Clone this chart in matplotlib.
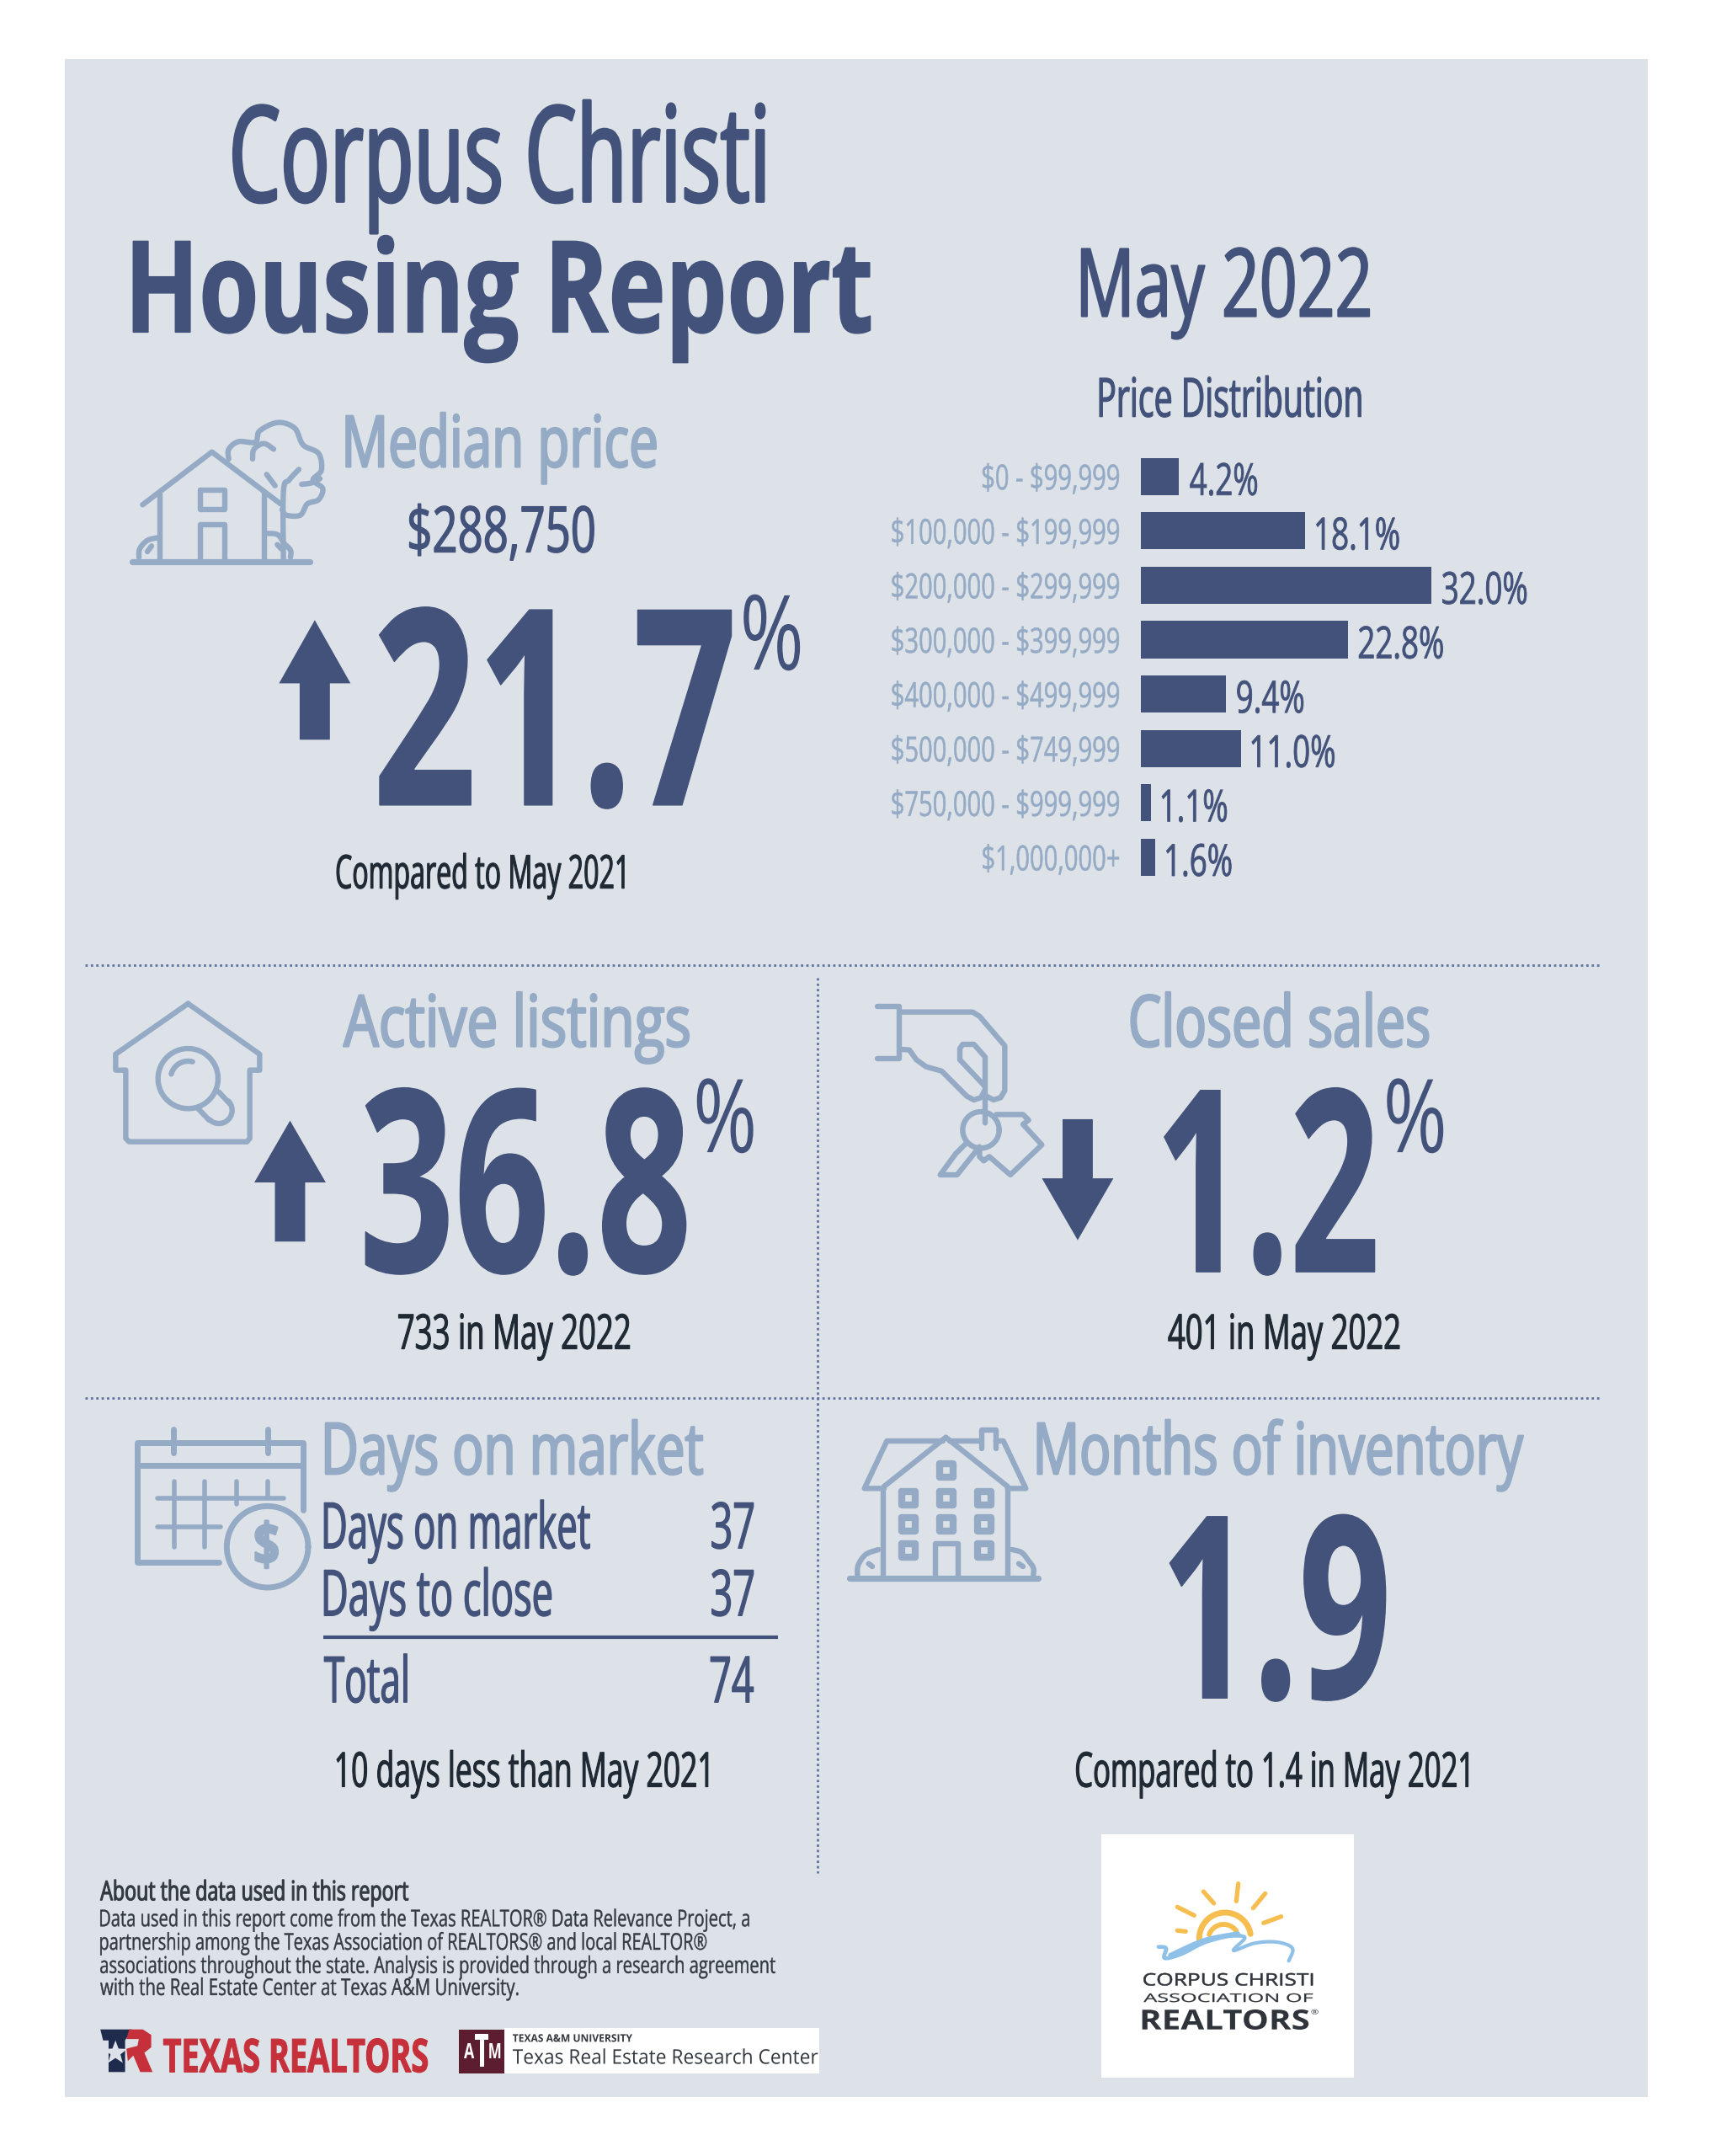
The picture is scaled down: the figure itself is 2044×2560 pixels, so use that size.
import numpy as np
import matplotlib
matplotlib.use("Agg")
import matplotlib.pyplot as plt
from matplotlib.font_manager import FontProperties
from matplotlib.textpath import TextPath
from matplotlib.patheffects import AbstractPathEffect
from matplotlib.transforms import Affine2D
from matplotlib.patches import Rectangle, Polygon

# ---------- data ----------
price_bands = ["$0 - $99,999", "$100,000 - $199,999", "$200,000 - $299,999", "$300,000 - $399,999",
               "$400,000 - $499,999", "$500,000 - $749,999", "$750,000 - $999,999", "$1,000,000+"]
price_shares = [4.2, 18.1, 32.0, 22.8, 9.4, 11.0, 1.1, 1.6]
median_change = "21.7"
active_change = "36.8"
closed_change = "1.2"
months_inventory = "1.9"
dom_rows = ["Days on market", "Days to close", "Total"]
dom_values = ["37", "37", "74"]

# ---------- canvas ----------
W = 1252.0
H = W * 2560 / 2044
S = 2044 / W
DARK = "#43527a"
LIGHT = "#95abc5"
INK = "#1f2933"
PANEL = "#dde2e8"
FONT = "Open Sans"

fig = plt.figure(figsize=(20.44, 25.60), dpi=100, facecolor="white")
ax = fig.add_axes([0, 0, 1, 1])
ax.set_xlim(0, W)
ax.set_ylim(H, 0)
ax.axis("off")


class Shape(AbstractPathEffect):
    """Rescale glyphs about the text origin (to mimic a condensed or expanded face) and optionally embolden."""
    def __init__(self, ex, ey, px, py, stroke=0.0):
        super().__init__()
        self.ex, self.ey, self.px, self.py, self.stroke = ex, ey, px, py, stroke

    def draw_path(self, renderer, gc, tpath, affine, rgbFace=None):
        a = affine + Affine2D().translate(-self.px, -self.py).scale(self.ex, self.ey).translate(self.px, self.py)
        g = renderer.new_gc()
        g.copy_properties(gc)
        if self.stroke > 0:
            g.set_linewidth(self.stroke)
            g.set_foreground(rgbFace)
            g.set_joinstyle("round")
        else:
            g.set_linewidth(0)
        renderer.draw_path(g, tpath, a, rgbFace)
        g.restore()


CAP = {"Liberation Sans": 0.716, "Roboto": 0.711, "Open Sans": 0.714}


def measure(s, cap, weight, family):
    fs = cap * S * 0.72 / CAP[family]
    fp = FontProperties(family=family, weight=weight, size=fs)
    ext = TextPath((0, 0), s.replace("$", r"\$"), size=fs, prop=fp).get_extents()
    return fs, ext.width * 100 / 72 / S, ext.x0 * 100 / 72 / S


def T(s, x0=None, x1=None, base=0, cap=20, color=DARK, weight="normal", stroke=0.0, sx=None,
      family=FONT, z=5):
    fs, nat, off = measure(s, cap, weight, family)
    if sx is None:
        sx = (x1 - x0) / nat
    if x0 is None:
        x0 = x1 - nat * sx
    xt = x0 - off * sx
    if sx < 1:
        size, ex, ey = fs * sx, 1.0, 1 / sx
    else:
        size, ex, ey = fs, sx, 1.0
    fp = FontProperties(family=family, weight=weight, size=size)
    t = ax.text(xt, base, s, fontproperties=fp, color=color, ha="left", va="baseline",
                parse_math=False, zorder=z)
    px, py = ax.transData.transform((xt, base))
    t.set_path_effects([Shape(ex, ey, px, py, stroke)])
    return sx


def sxof(s, width, cap, weight="normal", family=FONT):
    return width / measure(s, cap, weight, family)[1]


ax.add_patch(Rectangle((47, 43), 1152, 1482, fc=PANEL, ec="none", zorder=0))

# ---------- titles ----------
HEAD = 1.8
T("Corpus Christi", 170, 556, 146.5, 69, DARK, stroke=2.4)
T("Housing Report", 97, 633, 241.5, 66, DARK, weight="bold", stroke=1.2)
T("May 2022", 787, 996, 230, 49, DARK, stroke=1.6)
T("Price Distribution", 800, 990, 303, 28, DARK, stroke=0.9)

# ---------- price distribution ----------
n = len(price_bands)
pitch = (610 - 333) / (n - 1)
top = 346.5 - pitch / 2
hgt = pitch * n
bx = fig.add_axes([830 / W, 1 - (top + hgt) / H, (1041.5 - 830) / W, hgt / H])
bx.patch.set_alpha(0)
bx.axis("off")
ypos = np.arange(n)
bx.barh(ypos, price_shares, height=27 / pitch, color=DARK, linewidth=0)
bx.set_xlim(0, max(price_shares))
bx.set_ylim(n - 0.5, -0.5)
sx_band = sxof("$100,000 - $199,999", 165, 18)
sx_val = sxof("32.0%", 61, 23)
for i, (lab, v) in enumerate(zip(price_bands, price_shares)):
    px, py = bx.transData.transform((v, i + 27 / pitch / 2))
    xe, ye = ax.transData.inverted().transform((px, py))
    T(lab, x1=814, base=ye - 4, cap=18, color=LIGHT, sx=sx_band, stroke=0.4)
    T(f"{v:.1f}%", x0=xe + 8, base=ye, cap=23, color=DARK, sx=sx_val, stroke=0.6)


# ---------- icon helpers ----------
def smooth(pts, k=10):
    p = np.array(pts, float)
    q = np.vstack([p[0], p, p[-1]])
    out = []
    for i in range(1, len(q) - 2):
        for t in np.linspace(0, 1, k, endpoint=False):
            a, b, c, d = q[i - 1], q[i], q[i + 1], q[i + 2]
            out.append(0.5 * (2 * b + (c - a) * t + (2 * a - 5 * b + 4 * c - d) * t ** 2
                              + (3 * b - a - 3 * c + d) * t ** 3))
    out.append(p[-1])
    return np.array(out)


class Icon:
    """Maps 3x-zoom picture coordinates to canvas units."""
    def __init__(self, ox, oy, lw, color=LIGHT):
        self.ox, self.oy, self.lw, self.color = ox, oy, lw, color

    def m(self, pts):
        p = np.array(pts, float)
        return (self.ox + p[:, 0] / 3) / S, (self.oy + p[:, 1] / 3) / S

    def line(self, pts, lw=None, curved=False, color=None):
        if curved:
            pts = smooth(pts)
        x, y = self.m(pts)
        ax.plot(x, y, color=color or self.color, lw=lw or self.lw, solid_capstyle="round",
                solid_joinstyle="round", zorder=3)

    def arc(self, cx, cy, r, a0, a1, lw=None, color=None):
        t = np.radians(np.linspace(a0, a1, 60))
        self.line(np.c_[cx + r * np.cos(t), cy + r * np.sin(t)], lw=lw, color=color)


def arrow(xc, tip, head, end):
    ax.add_patch(Polygon([(xc, tip), (xc + 26, head), (xc + 11, head), (xc + 11, end),
                          (xc - 11, end), (xc - 11, head), (xc - 26, head)],
                         fc=DARK, ec="none", zorder=4))


# median price house
I = Icon(130, 470, 4.6)
I.line([(118, 388), (365, 200), (610, 385)])
I.line([(180, 350), (180, 590)])
I.line([(553, 345), (553, 590)])
I.line([(80, 590), (715, 590)], lw=5.2)
I.line([(325, 335), (410, 335), (410, 405), (325, 405), (325, 335)])
I.line([(325, 590), (325, 458), (410, 458), (410, 590)])
I.line([(425, 225), (425, 190), (460, 163), (520, 165), (535, 125), (600, 95), (660, 115), (690, 175),
        (745, 205), (755, 265), (725, 300), (760, 330), (745, 370), (705, 385), (680, 425), (630, 425), (615, 405)],
       curved=True)
I.line([(510, 225), (515, 190), (550, 170), (585, 190)], curved=True)
I.line([(620, 590), (620, 340), (640, 300), (675, 262)], curved=True)
I.line([(560, 280), (590, 320)])
I.line([(685, 315), (720, 310), (750, 295)], curved=True)
I.line([(105, 575), (108, 545), (135, 515), (175, 505)], curved=True)
I.line([(135, 555), (150, 535)])
I.line([(565, 490), (600, 495), (622, 525), (645, 550), (645, 575)], curved=True)
I.line([(598, 530), (612, 545)])

# active listings house
I = Icon(120, 1170, 4.6)
I.line([(310, 65), (565, 245), (565, 302), (530, 302), (530, 545), (520, 557), (100, 557), (88, 545),
        (88, 302), (52, 302), (52, 245), (310, 65)])
I.arc(310, 332, 107, 0, 360)
I.line([(345, 438), (385, 480)])
I.line([(420, 380), (462, 425)])
I.arc(420, 445, 47, -45, 135)
I.arc(310, 332, 62, 195, 285)

# closed sales hand + key
I = Icon(1020, 1170, 4.6)
I.line([(65, 75), (145, 75), (145, 260), (65, 260)])
I.line([(145, 95), (405, 95), (430, 110), (520, 215), (520, 375), (505, 400), (480, 408), (455, 395)])
I.line([(150, 228), (180, 230), (205, 265), (240, 290), (295, 305), (385, 395), (410, 408), (435, 400), (448, 375)])
I.line([(450, 490), (450, 255), (410, 210), (370, 210), (360, 225), (360, 265), (445, 355)])
I.arc(435, 515, 65, 0, 360)
I.line([(385, 560), (345, 600), (290, 675), (350, 675), (430, 575)])
I.line([(490, 460), (585, 460), (605, 480), (585, 495), (652, 568), (540, 675), (465, 610), (445, 625),
        (430, 610), (430, 590)])

# calendar
I = Icon(140, 1680, 5.0)
I.line([(360, 525), (70, 525), (70, 98), (660, 98), (660, 340)])
I.line([(70, 180), (655, 180)])
I.line([(197, 50), (197, 135)])
I.line([(533, 50), (533, 135)])
I.line([(200, 238), (200, 470)], lw=4.0)
I.line([(310, 238), (310, 470)], lw=4.0)
I.line([(422, 238), (422, 318)], lw=4.0)
I.line([(533, 238), (533, 295)], lw=4.0)
I.line([(140, 297), (590, 297)], lw=4.0)
I.line([(140, 400), (365, 400)], lw=4.0)
I.arc(533, 470, 145, 0, 360)
T("$", 186, 202, 1138, 30, LIGHT, weight="bold", stroke=2.0)

# big house
I = Icon(1000, 1680, 4.6)
I.line([(28, 582), (700, 582)], lw=5.2)
I.line([(147, 262), (147, 582)])
I.line([(590, 262), (590, 582)])
I.line([(150, 255), (370, 80), (590, 255)])
I.line([(360, 93), (160, 93), (80, 262), (150, 262)])
I.line([(385, 93), (495, 93)])
I.line([(497, 120), (497, 55), (548, 55), (548, 120)])
I.line([(548, 93), (575, 93), (655, 262), (590, 262)])
win_lw = 6.0
for xc, yc in [(372, 198), (237, 297), (372, 297), (507, 297), (237, 390), (372, 390), (507, 390), (237, 483), (507, 483)]:
    I.line([(xc - 23, yc - 23), (xc + 23, yc - 23), (xc + 23, yc + 23), (xc - 23, yc + 23), (xc - 23, yc - 23)], lw=win_lw)
I.line([(333, 582), (333, 458), (413, 458), (413, 582)])
I.line([(55, 570), (58, 535), (85, 497), (130, 480)], curved=True)
I.line([(95, 530), (108, 540)])
I.line([(605, 480), (640, 490), (665, 520), (682, 545), (682, 570)], curved=True)
I.line([(630, 530), (645, 540)])

# ---------- KPI blocks ----------
T("Median price", 252, 477, 339.5, 37, LIGHT, stroke=HEAD)
T("$288,750", 298, 432, 401.5, 33, DARK, stroke=1.0)
arrow(229, 451, 497, 538)
T(median_change, 276, 532, 585.5, 142, DARK, weight="bold", stroke=1.0)
T("%", 541, 582, 487, 54, DARK)
T("Compared to May 2021", 245, 454, 646, 24, INK, stroke=0.8)

# separators
dot = dict(color="#5f72a0", lw=2.0, ls=(0, (1, 1.3)), zorder=2)
ax.plot([62, 1165], [702, 702], **dot)
ax.plot([62, 1165], [1017, 1017], **dot)
ax.plot([595, 595], [711, 1362], **dot)

T("Active listings", 250, 501, 761, 37, LIGHT, stroke=HEAD)
arrow(211, 815, 860, 903)
T(active_change, 266, 499, 925, 132, DARK, weight="bold", stroke=1.0)
T("%", 507, 548, 838, 53, DARK)
T("733 in May 2022", 290, 458, 981, 25, INK, stroke=0.8)

T("Closed sales", 823, 1039, 761, 37, LIGHT, stroke=HEAD)
arrow(784, 902, 857, 814)
T(closed_change, 847, 1000, 925, 132, DARK, weight="bold", stroke=1.0)
T("%", 1009, 1050, 838, 53, DARK)
T("401 in May 2022", 850, 1018, 981, 25, INK, stroke=0.8)

T("Days on market", 237, 511, 1072, 37, LIGHT, stroke=HEAD)
row_base = [1126, 1175, 1238]
row_x1 = [429, 401, 296]
for lab, val, b, xr in zip(dom_rows, dom_values, row_base, row_x1):
    T(lab, 236, xr, b, 33, DARK, stroke=1.0)
    T(val, x1=548, base=b, cap=33, color=DARK, sx=sxof("37", 30, 33), stroke=1.0)
ax.plot([235, 566], [1191, 1191], color=DARK, lw=3, zorder=3, solid_capstyle="butt")
T("10 days less than May 2021", 245, 515, 1299.5, 25, INK, stroke=0.8)

T("Months of inventory", 755, 1108, 1072, 37, LIGHT, stroke=HEAD)
T(months_inventory, 851, 1008, 1235, 132, DARK, weight="bold", stroke=1.0)
T("Compared to 1.4 in May 2021", 783, 1068, 1299.5, 25, INK, stroke=0.8)

# ---------- footer ----------
FOOT = "#333941"
T("About the data used in this report", 73, 297, 1382, 14, FOOT, stroke=0.8)
foot_lines = ["Data used in this report come from the Texas REALTOR® Data Relevance Project, a",
              "partnership among the Texas Association of REALTORS® and local REALTOR®",
              "associations throughout the state. Analysis is provided through a research agreement",
              "with the Real Estate Center at Texas A&M University."]
foot_x1 = [545, 514, 564, 377]
foot_b = [1401, 1418, 1435, 1451]
for s_, xr, b in zip(foot_lines, foot_x1, foot_b):
    T(s_, 73, xr, b, 12, FOOT, stroke=0.3)

# Texas Realtors logo
NAVY = "#1f2b4d"
RED = "#c5303a"
ax.add_patch(Polygon([(73, 1476), (96, 1476), (91, 1484), (91, 1507), (79, 1507), (79, 1484), (75, 1484)], fc=NAVY, ec="none", zorder=3))
ang = np.radians(np.arange(0, 360, 36) - 90)
rad = np.where(np.arange(10) % 2 == 0, 9, 3.8)
ax.add_patch(Polygon(np.c_[84 + rad * np.cos(ang), 1493 + rad * np.sin(ang)], fc=PANEL, ec="none", zorder=4))
ax.add_patch(Polygon([(94, 1476), (104, 1476), (110, 1480), (110, 1489), (105, 1493), (111, 1507), (102, 1507),
                      (97, 1495), (93, 1499), (92, 1490), (100, 1488), (101, 1483), (92, 1483)], fc=RED, ec="none", zorder=5))
T("TEXAS REALTORS", 119, 311, 1507, 24, RED, weight="bold", stroke=0.8)

# A&M logo
ax.add_patch(Rectangle((367, 1475), 229, 33, fc="white", ec="none", zorder=2))
ax.add_patch(Rectangle((334, 1476), 33, 32, fc="#5d1d30", ec="none", zorder=3))
T("T", 345.5, 355.5, 1503, 24, "white", weight="bold")
T("A", 337.5, 345, 1497, 11, "white", weight="bold")
T("M", 356, 364, 1497, 11, "white", weight="bold")
T("TEXAS A&M UNIVERSITY", 373, 460, 1485, 5.5, "#33383f", weight="bold")
T("Texas Real Estate Research Center", 373, 595, 1501, 10.5, "#33383f")

# Corpus Christi logo
ax.add_patch(Rectangle((801, 1334), 184, 177, fc="white", ec="none", zorder=2))
I = Icon(1290, 2170, 3.8, "#f6bd4f")
for a_, b_ in [((325, 283), (385, 313)), ((418, 228), (455, 270)), ((542, 200), (535, 262)),
               ((638, 235), (595, 287)), ((695, 317), (632, 340)), ((325, 367), (355, 370))]:
    I.line([a_, b_])
I.arc(495, 395, 92, 178, 350, lw=5.0)
I.arc(490, 400, 55, 200, 325, lw=4.2)
I2 = Icon(1290, 2170, 3.4, "#8fc1e8")
I2.line([(258, 425), (285, 430), (280, 465), (340, 450), (420, 410), (500, 388), (548, 385)], curved=True)
I2.line([(548, 385), (565, 395), (525, 438), (600, 412), (680, 408), (735, 430), (722, 475)], curved=True, lw=3.0)
I2.line([(300, 455), (420, 402), (540, 378)], curved=True, lw=4.0)
LOGO = "#2f333a"
T("CORPUS CHRISTI", 832, 955, 1444, 8.8, LOGO, stroke=0.4)
T("ASSOCIATION OF", 832, 955, 1456, 6.1, LOGO, stroke=0.2)
T("REALTORS", 831, 952, 1476, 14.3, LOGO, weight="bold")
T("®", 954, 959, 1465, 3.6, LOGO)

fig.savefig("out.png", dpi=100, facecolor="white")
